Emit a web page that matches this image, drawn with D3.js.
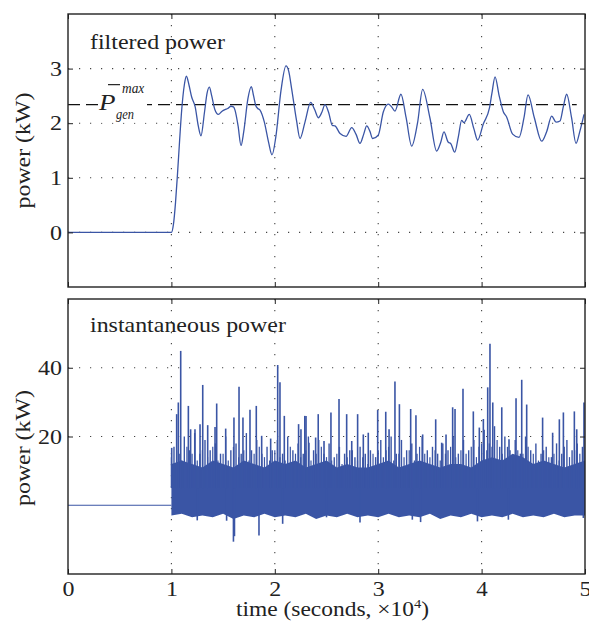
<!DOCTYPE html>
<html>
<head>
<meta charset="utf-8">
<script src="https://cdn.jsdelivr.net/npm/d3@7"></script>
<style>
	body { margin: 0; background: #fff; }
</style>
</head>
<body>
<div id="chart"></div>
<script>
// ---------- data (time in units of 10^4 s, power in kW) ----------

// filtered power: zero until t = 1, then the smoothed curve
const filtT = [0, 1.0, 1.02, 1.04, 1.06, 1.08, 1.1, 1.125, 1.145, 1.17, 1.196, 1.23, 1.26, 1.286, 1.32, 1.345, 1.367, 1.39, 1.42, 1.454, 1.49, 1.518, 1.545, 1.576, 1.6, 1.615, 1.645, 1.673, 1.7, 1.74, 1.773, 1.795, 1.815, 1.835, 1.857, 1.899, 1.94, 1.973, 2.01, 2.06, 2.108, 2.135, 2.163, 2.21, 2.244, 2.292, 2.347, 2.385, 2.421, 2.455, 2.485, 2.52, 2.556, 2.582, 2.631, 2.689, 2.744, 2.785, 2.824, 2.86, 2.889, 2.92, 2.946, 3.0, 3.05, 3.098, 3.13, 3.162, 3.22, 3.27, 3.324, 3.38, 3.43, 3.5, 3.565, 3.605, 3.636, 3.678, 3.701, 3.74, 3.775, 3.807, 3.83, 3.881, 3.925, 3.962, 4.017, 4.075, 4.1, 4.13, 4.17, 4.21, 4.243, 4.3, 4.362, 4.41, 4.449, 4.51, 4.581, 4.63, 4.678, 4.72, 4.758, 4.79, 4.823, 4.87, 4.913, 4.95, 4.99];
const filtP = [0, 0, 0.15, 0.55, 1.1, 1.7, 2.25, 2.7, 2.86, 2.7, 2.48, 2.3, 1.95, 1.77, 2.2, 2.55, 2.66, 2.5, 2.25, 2.16, 2.22, 2.25, 2.27, 2.31, 2.3, 2.24, 1.95, 1.59, 1.85, 2.45, 2.67, 2.5, 2.33, 2.27, 2.24, 2.02, 1.65, 1.42, 1.75, 2.6, 3.05, 2.95, 2.63, 2.05, 1.72, 2.02, 2.38, 2.25, 2.10, 2.2, 2.34, 2.2, 1.96, 1.95, 1.81, 1.76, 1.92, 1.8, 1.63, 1.8, 1.95, 1.85, 1.72, 1.78, 2.21, 2.35, 2.3, 2.22, 2.53, 2.1, 1.58, 2.0, 2.62, 2.1, 1.49, 1.65, 1.84, 1.65, 1.63, 1.47, 1.75, 2.05, 2.01, 2.16, 1.9, 1.69, 1.99, 2.27, 2.55, 2.85, 2.5, 2.21, 2.11, 1.8, 1.74, 2.1, 2.52, 2.1, 1.67, 1.85, 2.13, 2.02, 2.04, 2.3, 2.53, 2.1, 1.63, 1.85, 2.16];

// average maximum generated power (dashed reference line)
const pGenMax = 2.34;

// instantaneous power
// solid core of the band: upper and lower edge, every 0.1 from t = 1
const coreTop = [12, 13, 12, 11, 13, 12, 11, 13, 12, 11, 13, 12, 13, 11, 12, 13, 11, 12, 11, 11, 12, 13, 11, 12, 13, 12, 11, 12, 12, 11, 13, 14, 13, 15, 14, 12, 13, 12, 11, 12, 13];
const coreBottom = [-3, -2.5, -3.5, -3, -3.5, -2.5, -4, -3, -3.5, -2.5, -3.5, -3, -3.5, -2.5, -4, -3, -3.5, -2.5, -3.5, -3, -3.5, -2.5, -3.5, -3, -3.5, -2.5, -4, -3, -3.5, -2.5, -3.5, -3, -3.5, -2.5, -3.5, -3, -3.5, -2.5, -3.5, -3, -3];
// dense medium spikes, every 0.05 from t = 1.025
const midP = [17, 15, 20, 16, 21, 15, 19, 16, 18, 15,
	20, 16, 18, 15, 21, 16, 19, 15, 17, 16,
	19, 15, 20, 16, 18, 15, 20, 16, 19, 15,
	18, 14, 17, 15, 16, 14, 17, 15, 16, 14,
	19, 16, 20, 15, 19, 16, 18, 15, 20, 16,
	17, 15, 18, 16, 20, 15, 19, 16, 19, 17,
	22, 18, 23, 17, 20, 16, 19, 15, 20, 16,
	18, 15, 17, 14, 18, 15, 19, 16, 18, 17];
// shorter spikes in between, every 0.05 from t = 1.0
const midP2 = [14, 16, 13, 17, 15, 13, 16, 14, 17, 13,
	15, 13, 17, 14, 16, 13, 15, 17, 14, 13,
	16, 14, 13, 17, 15, 14, 16, 13, 15, 17,
	14, 13, 15, 12, 14, 16, 13, 14, 12, 15,
	16, 14, 17, 13, 15, 14, 16, 13, 17, 15,
	14, 16, 13, 15, 17, 14, 16, 15, 17, 14,
	18, 16, 17, 19, 15, 17, 14, 16, 15, 17,
	15, 13, 16, 14, 15, 13, 17, 14, 16, 15];

// tall spikes above the band
const spikeT = [1.003, 1.051, 1.067, 1.09, 1.164, 1.186, 1.228, 1.277, 1.303, 1.351, 1.422, 1.438, 1.525, 1.605, 1.654, 1.692, 1.76, 1.821, 1.873, 1.96, 2.028, 2.05, 2.092, 2.23, 2.253, 2.29, 2.302, 2.33, 2.395, 2.42, 2.476, 2.543, 2.621, 2.695, 2.744, 2.801, 2.856, 2.904, 2.995, 3.073, 3.105, 3.162, 3.205, 3.314, 3.365, 3.43, 3.556, 3.614, 3.656, 3.72, 3.743, 3.82, 3.92, 3.978, 4.017, 4.059, 4.081, 4.108, 4.195, 4.265, 4.333, 4.388, 4.436, 4.59, 4.687, 4.752, 4.791, 4.897, 4.92, 4.99];
const spikeP = [16.7, 26.5, 29.9, 44.9, 28.9, 22.1, 22.1, 23.6, 35, 23.3, 22.8, 29.6, 22.3, 25.5, 34.5, 25.5, 27.8, 28.9, 20.2, 19.4, 40.8, 35.8, 26, 23.6, 22.1, 26, 26, 18.2, 19.7, 26.5, 18.7, 27, 30.9, 26.5, 18.7, 26.5, 20.6, 21.1, 27.7, 27.2, 22.1, 36, 29.4, 28, 26.2, 20.6, 25, 18.2, 20.6, 28.5, 28, 33.9, 27.3, 22.6, 25.1, 34.3, 47, 29.9, 28.5, 19.2, 31.1, 36.5, 29.3, 25.5, 21.1, 25, 27, 27.3, 22.1, 29.9];

// dips below the band
const dipT = [1.25, 1.534, 1.6, 1.61, 1.847, 2.076, 2.5, 2.824, 3.33, 3.41, 3.96, 4.259, 4.984];
const dipP = [-4.4, -4.5, -10.6, -9, -8.8, -5.4, -3.5, -5, -4.2, -4.9, -4.7, -4.2, -3.7];

const xTicks = [0, 1, 2, 3, 4, 5];
const topTicks = [0, 1, 2, 3];
const botTicks = [20, 40];

// ---------- layout ----------
const width = 589, height = 625;
const left = 68, right = 585;
const topPanel = { y0: 14, y1: 287 };
const botPanel = { y0: 299, y1: 574 };
const blue = '#3a55a5';
const ink = '#222';
const serif = '"Liberation Serif", "Times New Roman", Times, serif';
const fs = 21;
const perChar = 12; // stretched digit width of the reference

const svg = d3.select('#chart')
	.append('svg')
	.attr('width', width)
	.attr('height', height)
	.attr('font-family', serif);

const x = d3.scaleLinear().domain([0, 5]).range([left, right]);
const yTop = d3.scaleLinear().domain([-1, 4]).range([topPanel.y1, topPanel.y0]);
const yBot = d3.scaleLinear().domain([-20, 60]).range([botPanel.y1, botPanel.y0]);

// the reference type is a horizontally widened Times: stretch text to the measured width
const stretch = (sel, target, anchor) => {
	sel.each(function () {
		const bb = this.getBBox();
		if (!bb.width) return;
		const k = target / bb.width;
		const ax = anchor === 'middle' ? bb.x + bb.width / 2 : anchor === 'end' ? bb.x + bb.width : bb.x;
		d3.select(this).attr('transform', `translate(${ax},0) scale(${k},1) translate(${-ax},0)`);
	});
};

// dotted grid lines
const drawGrid = (g, y, yTicks, panel) => {
	g.selectAll('line.vgrid')
		.data(xTicks.slice(1, -1))
		.enter().append('line')
		.attr('class', 'vgrid')
		.attr('x1', d => x(d)).attr('x2', d => x(d))
		.attr('y1', panel.y0).attr('y2', panel.y1);
	g.selectAll('line.hgrid')
		.data(yTicks)
		.enter().append('line')
		.attr('class', 'hgrid')
		.attr('x1', left).attr('x2', right)
		.attr('y1', d => y(d)).attr('y2', d => y(d));
	g.selectAll('line')
		.attr('stroke', '#444')
		.attr('stroke-width', 1.1)
		.attr('stroke-dasharray', '1.2,9.8');
};

// frame, inward ticks and labels
const drawFrame = (y, yTicks, panel, showX) => {
	const g = svg.append('g');
	const yAxis = g.append('g')
		.attr('transform', `translate(${left},0)`)
		.call(d3.axisLeft(y).tickValues(yTicks).tickSizeInner(-5).tickSizeOuter(0).tickPadding(6).tickFormat(d3.format('d')));
	g.append('g')
		.attr('transform', `translate(${right},0)`)
		.call(d3.axisRight(y).tickValues(yTicks).tickSizeInner(-5).tickSizeOuter(0).tickFormat(''));
	g.append('g')
		.attr('transform', `translate(0,${panel.y0})`)
		.call(d3.axisTop(x).tickValues(xTicks).tickSizeInner(-5).tickSizeOuter(0).tickFormat(''));
	const xAxis = g.append('g')
		.attr('transform', `translate(0,${panel.y1})`)
		.call(d3.axisBottom(x).tickValues(xTicks).tickSizeInner(-5).tickSizeOuter(0).tickPadding(7)
			.tickFormat(showX ? d3.format('d') : ''));
	g.selectAll('.domain').remove();
	g.selectAll('g').attr('font-family', serif).attr('font-size', fs);
	g.selectAll('.tick line').attr('stroke', ink);
	g.selectAll('.tick text').attr('fill', ink);
	yAxis.selectAll('.tick text').each(function () {
		stretch(d3.select(this), this.textContent.length * perChar, 'end');
	});
	xAxis.selectAll('.tick text').each(function () {
		stretch(d3.select(this), this.textContent.length * perChar, 'middle');
	});
	g.append('rect')
		.attr('x', left).attr('y', panel.y0)
		.attr('width', right - left).attr('height', panel.y1 - panel.y0)
		.attr('fill', 'none')
		.attr('stroke', ink)
		.attr('stroke-width', 1.4);
};

const yLabel = (cy) => {
	const t = svg.append('g')
		.attr('transform', `translate(30,${cy}) rotate(-90)`)
		.append('text')
		.attr('text-anchor', 'middle')
		.attr('font-size', fs)
		.attr('fill', ink)
		.text('power (kW)');
	stretch(t, 116, 'middle');
};

// ---------- top panel: filtered power ----------
const topG = svg.append('g');
drawGrid(topG.append('g'), yTop, topTicks, topPanel);

const filtData = filtT.map((t, i) => ({ t: t, p: filtP[i] }));

topG.append('line')
	.attr('x1', x(0)).attr('x2', x(4.92))
	.attr('y1', yTop(pGenMax)).attr('y2', yTop(pGenMax))
	.attr('stroke', '#111')
	.attr('stroke-width', 1.2)
	.attr('stroke-dasharray', '12,6');

topG.append('path')
	.datum(filtData)
	.attr('fill', 'none')
	.attr('stroke', blue)
	.attr('stroke-width', 1.3)
	.attr('d', d3.line().x(d => x(d.t)).y(d => yTop(d.p)).curve(d3.curveMonotoneX));

// label for the dashed line, on a white patch
const pLab = topG.append('g').attr('transform', `translate(98,${yTop(pGenMax)})`);
pLab.append('rect').attr('x', 0).attr('y', -22).attr('width', 49).attr('height', 40).attr('fill', '#fff');
const pP = pLab.append('text').attr('x', 1).attr('y', 5).attr('font-size', 24).attr('font-style', 'italic').attr('fill', ink).text('P');
stretch(pP, 18, 'start');
pLab.append('line').attr('x1', 10).attr('x2', 22).attr('y1', -20).attr('y2', -20).attr('stroke', ink).attr('stroke-width', 1.2);
const pMax = pLab.append('text').attr('x', 24).attr('y', -12).attr('font-size', 14).attr('font-style', 'italic').attr('fill', ink).text('max');
stretch(pMax, 23, 'start');
const pGen = pLab.append('text').attr('x', 18).attr('y', 14).attr('font-size', 14).attr('font-style', 'italic').attr('fill', ink).text('gen');
stretch(pGen, 18, 'start');

const tTitle = topG.append('text')
	.attr('x', 90).attr('y', 49)
	.attr('font-size', fs)
	.attr('fill', ink)
	.text('filtered power');
stretch(tTitle, 135, 'start');

drawFrame(yTop, topTicks, topPanel, false);
yLabel((topPanel.y0 + topPanel.y1) / 2);

// ---------- bottom panel: instantaneous power ----------
const botG = svg.append('g');
drawGrid(botG.append('g'), yBot, botTicks, botPanel);

botG.append('line')
	.attr('x1', x(0)).attr('x2', x(1))
	.attr('y1', yBot(0)).attr('y2', yBot(0))
	.attr('stroke', blue)
	.attr('stroke-width', 1.2);

const coreData = coreTop.map((v, i) => ({ t: 1 + i * 0.1, hi: v, lo: coreBottom[i] }));
botG.append('path')
	.datum(coreData)
	.attr('fill', blue)
	.attr('d', d3.area().x(d => x(d.t)).y0(d => yBot(d.lo)).y1(d => yBot(d.hi)));

const midData = midP.map((p, i) => ({ t: 1.025 + i * 0.05, p: p, w: 1.4 }))
	.concat(midP2.map((p, i) => ({ t: 1.0 + i * 0.05, p: p, w: 1.2 })));
const bigData = spikeT.map((t, i) => ({ t: t, p: spikeP[i] }))
	.concat(dipT.map((t, i) => ({ t: t, p: dipP[i] })));

botG.selectAll('line.mid')
	.data(midData)
	.enter().append('line')
	.attr('class', 'mid')
	.attr('x1', d => x(d.t)).attr('x2', d => x(d.t))
	.attr('y1', yBot(5)).attr('y2', d => yBot(d.p))
	.attr('stroke', blue)
	.attr('stroke-width', d => d.w);

botG.selectAll('line.spike')
	.data(bigData)
	.enter().append('line')
	.attr('class', 'spike')
	.attr('x1', d => x(d.t)).attr('x2', d => x(d.t))
	.attr('y1', yBot(5)).attr('y2', d => yBot(d.p))
	.attr('stroke', blue)
	.attr('stroke-width', 1.6);

const bTitle = botG.append('text')
	.attr('x', 90).attr('y', 332)
	.attr('font-size', fs)
	.attr('fill', ink)
	.text('instantaneous power');
stretch(bTitle, 196, 'start');

drawFrame(yBot, botTicks, botPanel, true);
yLabel(448);

// x axis title with superscript
const xt = svg.append('text')
	.attr('x', (left + right) / 2 + 6).attr('y', 616)
	.attr('text-anchor', 'middle')
	.attr('font-size', fs)
	.attr('fill', ink);
xt.append('tspan').text('time (seconds, \u00d710');
xt.append('tspan').attr('dy', -8).attr('font-size', 13).text('4');
xt.append('tspan').attr('dy', 8).text(')');
stretch(xt, 193, 'middle');
</script>
</body>
</html>
